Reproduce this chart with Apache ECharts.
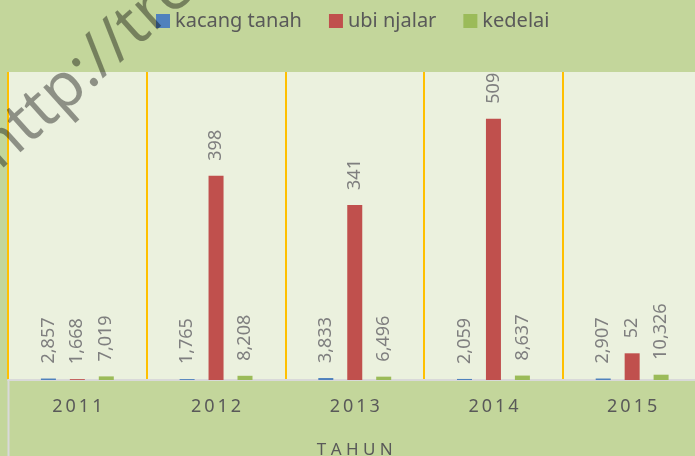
<!DOCTYPE html>
<html>
<head>
<meta charset="utf-8">
<script src="https://cdn.jsdelivr.net/npm/echarts@6/dist/echarts.min.js"></script>
<style>
  html, body { margin: 0; padding: 0; background: #c3d69b; }
  #chart { width: 695px; height: 456px; }
</style>
</head>
<body>
<div id="chart"></div>
<script>
var categories = ['2011', '2012', '2013', '2014', '2015'];
var kacangTanah = [2.857, 1.765, 3.833, 2.059, 2.907];
var ubiNjalar = [1.668, 398, 341, 509, 52];
var kedelai = [7.019, 8.208, 6.496, 8.637, 10.326];

var font = 'Noto Sans';

// Excel "General" format with comma as decimal separator
function fmt(p) {
  var v = p.value;
  return Number.isInteger(v) ? String(v) : v.toFixed(3).replace('.', ',');
}

var barLabel = {
  show: true,
  position: 'top',
  rotate: 90,
  align: 'left',
  verticalAlign: 'middle',
  distance: 15,
  formatter: fmt,
  fontFamily: font,
  fontSize: 18,
  color: '#7f7f7f'
};

function bar(name, data, color) {
  return {
    name: name,
    type: 'bar',
    data: data,
    barWidth: 15,
    barGap: '93%',
    itemStyle: { color: color },
    label: barLabel
  };
}

var chart = echarts.init(document.getElementById('chart'));
chart.setOption({
  backgroundColor: '#c3d69b',
  animation: false,
  legend: {
    data: ['kacang tanah', 'ubi njalar', 'kedelai'],
    left: 151,
    top: 6,
    itemWidth: 14,
    itemHeight: 14,
    itemGap: 27,
    icon: 'rect',
    textStyle: { fontFamily: font, fontSize: 20, color: '#595959' }
  },
  grid: {
    left: 8, top: 72, width: 693.5, height: 308,
    containLabel: false, outerBoundsMode: 'none',
    show: true, backgroundColor: '#ebf1de', borderWidth: 0
  },
  xAxis: {
    type: 'category',
    data: categories,
    name: 'T A H U N',
    nameLocation: 'middle',
    nameGap: 62,
    nameTextStyle: { fontFamily: font, fontSize: 17, color: '#595959' },
    axisLine: { lineStyle: { color: '#d9d9d9', width: 2 } },
    axisTick: { show: false },
    axisLabel: {
      margin: 18,
      fontFamily: font,
      fontSize: 18,
      color: '#595959',
      formatter: function (v) { return v.split('').join('\u2009'); }
    },
    splitLine: { show: true, lineStyle: { color: '#ffc000', width: 2 } }
  },
  yAxis: {
    type: 'value',
    min: 0,
    max: 600,
    show: false,
    splitLine: { show: false }
  },
  graphic: [
    {
      type: 'line',
      shape: { x1: 8.5, y1: 380, x2: 8.5, y2: 456 },
      style: { stroke: '#d9d9d9', lineWidth: 2 }
    },
    {
      type: 'text',
      x: -12,
      y: 158,
      rotation: 42 * Math.PI / 180,
      z: 100,
      style: {
        text: 'http://tre',
        font: '62px "Noto Sans"',
        fill: 'rgba(0,0,0,0.4)',
        align: 'left',
        verticalAlign: 'middle'
      }
    }
  ],
  series: [
    bar('kacang tanah', kacangTanah, '#4f81bd'),
    bar('ubi njalar', ubiNjalar, '#c0504d'),
    bar('kedelai', kedelai, '#9bbb59')
  ]
});
</script>
</body>
</html>
